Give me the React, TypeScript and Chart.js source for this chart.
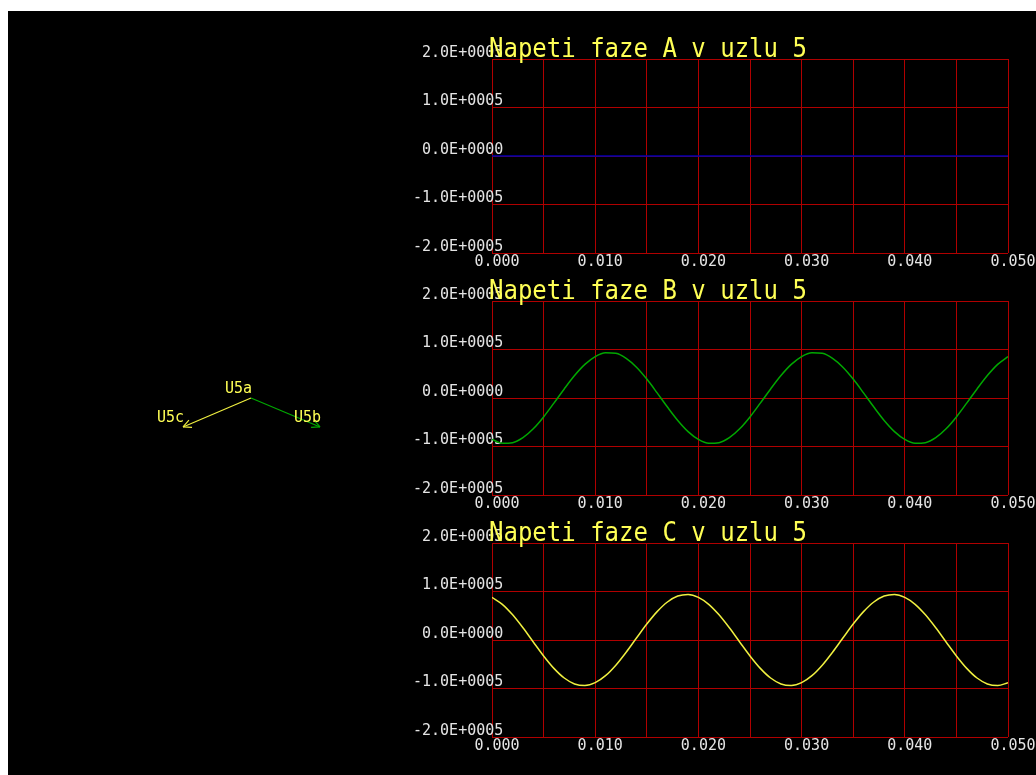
import React, { useEffect, useRef } from 'react';
import { Chart, registerables } from 'chart.js';

Chart.register(...registerables);

// ---- data ----
const time = [
  0, 0.001, 0.002, 0.003, 0.004, 0.005, 0.006, 0.007, 0.008, 0.009,
  0.01, 0.011, 0.012, 0.013, 0.014, 0.015, 0.016, 0.017, 0.018, 0.019,
  0.02, 0.021, 0.022, 0.023, 0.024, 0.025, 0.026, 0.027, 0.028, 0.029,
  0.03, 0.031, 0.032, 0.033, 0.034, 0.035, 0.036, 0.037, 0.038, 0.039,
  0.04, 0.041, 0.042, 0.043, 0.044, 0.045, 0.046, 0.047, 0.048, 0.049,
  0.05,
];

const phaseA = [
  0, 0, 0, 0, 0, 0, 0, 0, 0, 0,
  0, 0, 0, 0, 0, 0, 0, 0, 0, 0,
  0, 0, 0, 0, 0, 0, 0, 0, 0, 0,
  0, 0, 0, 0, 0, 0, 0, 0, 0, 0,
  0, 0, 0, 0, 0, 0, 0, 0, 0, 0,
  0,
];

const phaseB = [
  -85500, -93400, -92100, -81800, -63500, -39000, -10600, 18700, 46300, 69300,
  85500, 93400, 92100, 81800, 63500, 39000, 10600, -18700, -46300, -69300,
  -85500, -93400, -92100, -81800, -63500, -39000, -10600, 18700, 46300, 69300,
  85500, 93400, 92100, 81800, 63500, 39000, 10600, -18700, -46300, -69300,
  -85500, -93400, -92100, -81800, -63500, -39000, -10600, 18700, 46300, 69300,
  85500,
];

const phaseC = [
  88000, 73600, 51900, 25100, -4100, -32900, -58500, -78400, -90600, -93900,
  -88000, -73600, -51900, -25100, 4100, 32900, 58500, 78400, 90600, 93900,
  88000, 73600, 51900, 25100, -4100, -32900, -58500, -78400, -90600, -93900,
  -88000, -73600, -51900, -25100, 4100, 32900, 58500, 78400, 90600, 93900,
  88000, 73600, 51900, 25100, -4100, -32900, -58500, -78400, -90600, -93900,
  -88000,
];

const yTickLabels = ['-2.0E+0005', '-1.0E+0005', '0.0E+0000', '1.0E+0005', '2.0E+0005'];
const xTickLabels = ['0.000', '0.010', '0.020', '0.030', '0.040', '0.050'];
const panelTitles = ['Napeti faze A v uzlu 5', 'Napeti faze B v uzlu 5', 'Napeti faze C v uzlu 5'];

const phasorLabels = ['U5a', 'U5b', 'U5c'];
const phasorRe = [0, 86500, -85200];
const phasorIm = [0, -36300, -36300];

// ---- styles ----
const MONO = '"DejaVu Sans Mono", monospace';
const GRID = '#b00000';
const TICK = '#e4e4e4';
const YELLOW = '#ffff55';
const seriesColors = ['#0000b4', '#00a800', '#f0f040'];
const phasorColors = ['#f0f040', '#00a800', '#f0f040'];
const panelTops = [59, 301, 543];
const OFF_X = 8;
const OFF_Y = 11;

const titlePlugin = (text: string) => ({
  id: 'panelTitle',
  afterDraw(chart: any) {
    const { ctx, chartArea } = chart;
    ctx.save();
    ctx.font = `24px ${MONO}`;
    ctx.fillStyle = YELLOW;
    ctx.textAlign = 'left';
    ctx.textBaseline = 'alphabetic';
    ctx.translate(chartArea.left - 3, chartArea.top - 2);
    ctx.scale(1, 1.12);
    ctx.fillText(text, 0, 0);
    ctx.restore();
  },
});

function Panel({ title, values, color, top }: { title: string; values: number[]; color: string; top: number }) {
  const ref = useRef<HTMLCanvasElement | null>(null);
  useEffect(() => {
    if (!ref.current) return;
    const chart = new Chart(ref.current, {
      type: 'line',
      data: {
        datasets: [
          {
            data: time.map((t, i) => ({ x: t, y: values[i] })),
            borderColor: color,
            borderWidth: 1.5,
            pointRadius: 0,
            cubicInterpolationMode: 'monotone',
            fill: false,
          },
        ],
      },
      options: {
        responsive: false,
        animation: false,
        devicePixelRatio: 1,
        layout: { padding: { top: 40, right: 28, bottom: 0, left: 0 } },
        plugins: {
          legend: { display: false },
          tooltip: { enabled: false },
          title: { display: false },
        },
        scales: {
          x: {
            type: 'linear',
            min: 0,
            max: 0.05,
            afterFit: (s: any) => {
              s.height = 25;
            },
            grid: { color: GRID, lineWidth: 1, drawTicks: false },
            border: { display: false },
            ticks: {
              stepSize: 0.005,
              autoSkip: false,
              maxRotation: 0,
              minRotation: 0,
              padding: 0,
              labelOffset: 5,
              color: TICK,
              font: { family: MONO, size: 15 },
              callback: (v: any) => {
                const k = Math.round(Number(v) / 0.005);
                return k % 2 === 0 ? xTickLabels[k / 2] : '';
              },
            },
          },
          y: {
            type: 'linear',
            min: -200000,
            max: 200000,
            afterFit: (s: any) => {
              s.width = 92;
            },
            grid: { color: GRID, lineWidth: 1, drawTicks: false },
            border: { display: false },
            ticks: {
              stepSize: 100000,
              mirror: true,
              crossAlign: 'far',
              padding: -79,
              labelOffset: -6,
              color: TICK,
              font: { family: MONO, size: 15 },
              callback: (v: any) => yTickLabels[Math.round((Number(v) + 200000) / 100000)],
            },
          },
        },
      } as any,
      plugins: [titlePlugin(title)],
    });
    return () => chart.destroy();
  }, [title, values, color]);
  return (
    <canvas
      ref={ref}
      width={636}
      height={259}
      style={{ position: 'absolute', left: 400 - OFF_X, top: top - 40 - OFF_Y, width: 636, height: 259 }}
    />
  );
}

const phasorPlugin = {
  id: 'phasorDecor',
  afterDatasetsDraw(chart: any) {
    const { ctx } = chart;
    ctx.save();
    chart.data.datasets.forEach((ds: any, i: number) => {
      const meta = chart.getDatasetMeta(i);
      const o = meta.data[0];
      const tip = meta.data[1];
      if (!o || !tip) return;
      const dx = tip.x - o.x;
      const dy = tip.y - o.y;
      if (Math.hypot(dx, dy) > 1) {
        const ang = Math.atan2(dy, dx);
        ctx.strokeStyle = phasorColors[i];
        ctx.lineWidth = 1.2;
        ctx.beginPath();
        for (const s of [-0.45, 0.45]) {
          ctx.moveTo(tip.x, tip.y);
          ctx.lineTo(tip.x - 9 * Math.cos(ang + s), tip.y - 9 * Math.sin(ang + s));
        }
        ctx.stroke();
      }
      ctx.font = `15px ${MONO}`;
      ctx.fillStyle = YELLOW;
      ctx.textAlign = 'right';
      ctx.textBaseline = 'alphabetic';
      ctx.fillText(phasorLabels[i], tip.x + 1, tip.y - 5);
    });
    ctx.restore();
  },
};

function Phasors() {
  const ref = useRef<HTMLCanvasElement | null>(null);
  useEffect(() => {
    if (!ref.current) return;
    const chart = new Chart(ref.current, {
      type: 'scatter',
      data: {
        datasets: phasorLabels.map((lab, i) => ({
          label: lab,
          data: [
            { x: 0, y: 0 },
            { x: phasorRe[i], y: phasorIm[i] },
          ],
          showLine: true,
          borderColor: phasorColors[i],
          borderWidth: 1.2,
          pointRadius: 0,
        })),
      },
      options: {
        responsive: false,
        animation: false,
        devicePixelRatio: 1,
        layout: { padding: 0 },
        plugins: { legend: { display: false }, tooltip: { enabled: false } },
        scales: {
          x: { type: 'linear', display: false, min: -188000, max: 188000 },
          y: { type: 'linear', display: false, min: -188000, max: 188000 },
        },
      } as any,
      plugins: [phasorPlugin],
    });
    return () => chart.destroy();
  }, []);
  return (
    <canvas
      ref={ref}
      width={300}
      height={300}
      style={{ position: 'absolute', left: 101 - OFF_X, top: 248 - OFF_Y, width: 300, height: 300 }}
    />
  );
}

export default function App() {
  useEffect(() => {
    document.body.style.overflow = 'hidden';
  }, []);
  const series = [phaseA, phaseB, phaseC];
  return (
    <div
      style={{
        position: 'absolute',
        left: OFF_X,
        top: OFF_Y,
        width: 1036 - OFF_X,
        height: 775 - OFF_Y,
        background: '#000',
        overflow: 'hidden',
      }}
    >
      <Phasors />
      {panelTitles.map((t, i) => (
        <Panel key={t} title={t} values={series[i]} color={seriesColors[i]} top={panelTops[i]} />
      ))}
    </div>
  );
}
